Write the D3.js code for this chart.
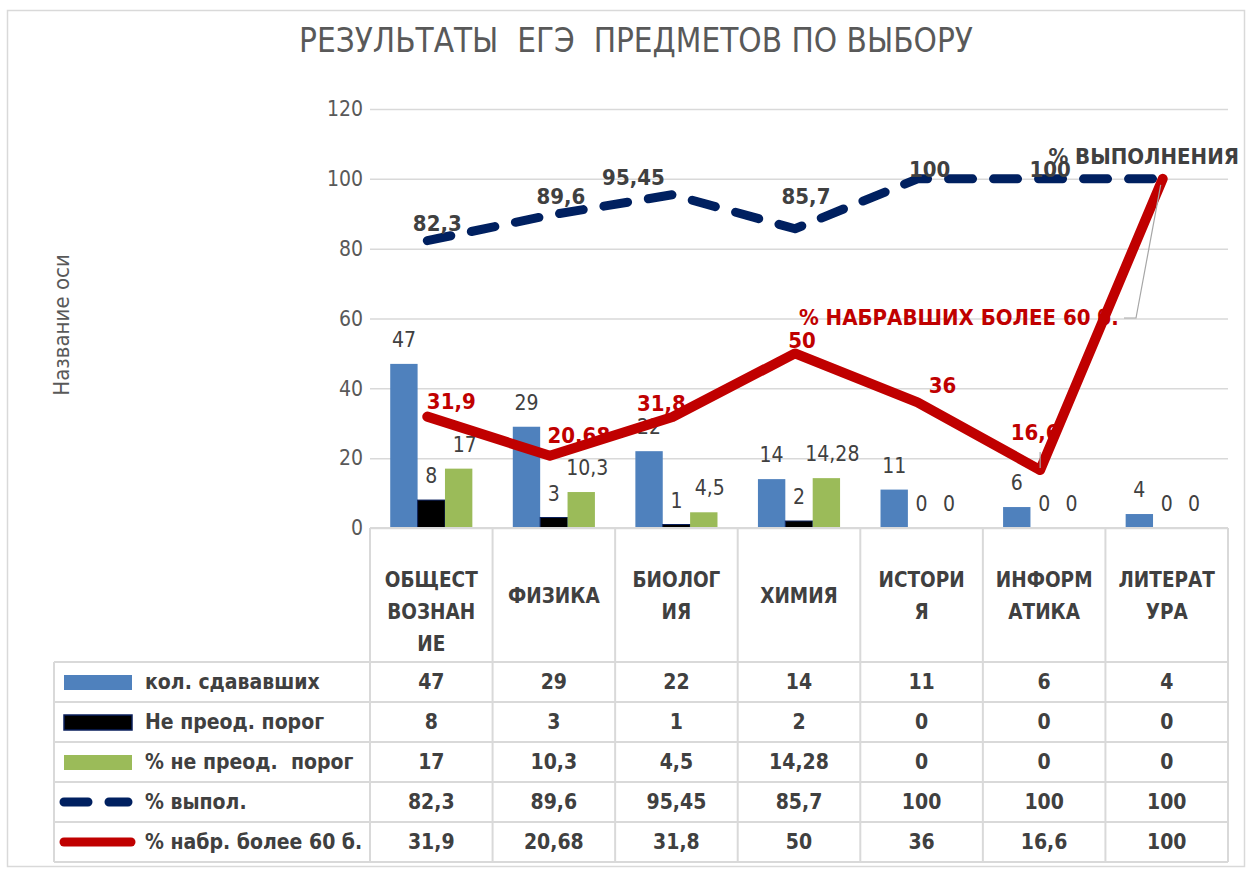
<!DOCTYPE html>
<html><head><meta charset="utf-8">
<script src="https://cdn.jsdelivr.net/npm/d3@7"></script>
<style>
html,body{margin:0;padding:0;background:#fff;}
svg text{white-space:pre;}
</style></head>
<body>
<svg id="chart" width="1251" height="870"></svg>
<script>
// ---------- DATA ----------
const categories = ["ОБЩЕСТВОЗНАНИЕ","ФИЗИКА","БИОЛОГИЯ","ХИМИЯ","ИСТОРИЯ","ИНФОРМАТИКА","ЛИТЕРАТУРА"];
const categoryLines = [["ОБЩЕСТ","ВОЗНАН","ИЕ"],["ФИЗИКА"],["БИОЛОГ","ИЯ"],["ХИМИЯ"],["ИСТОРИ","Я"],["ИНФОРМ","АТИКА"],["ЛИТЕРАТ","УРА"]];
const countTaken = [47,29,22,14,11,6,4];
const notPassed = [8,3,1,2,0,0,0];
const pctNotPassed = [17,10.3,4.5,14.28,0,0,0];
const pctDone = [82.3,89.6,95.45,85.7,100,100,100];
const pctOver60 = [31.9,20.68,31.8,50,36,16.6,100];
const seriesNames = ["кол. сдававших","Не преод. порог","% не преод.  порог","% выпол.","% набр. более 60 б."];
const yTicks = [0,20,40,60,80,100,120];
const title = "РЕЗУЛЬТАТЫ  ЕГЭ  ПРЕДМЕТОВ ПО ВЫБОРУ";
const yAxisTitle = "Название оси";
const lineSeriesLabels = ["% ВЫПОЛНЕНИЯ","% НАБРАВШИХ БОЛЕЕ 60 б."];

// ---------- DRAW ----------
const FONT = "'Liberation Sans Narrow','DejaVu Sans Condensed','Open Sans',sans-serif";
const fmt = v => String(v).replace(".", ",");
const svg = d3.select("#chart");
const textCol = "#404040";
const gridCol = "#d9d9d9";

svg.append("rect").attr("x",7.5).attr("y",10.5).attr("width",1237).attr("height",856)
  .attr("fill","#fff").attr("stroke","#d9d9d9").attr("stroke-width",1.5);

svg.append("text").attr("x",636).attr("y",40).attr("text-anchor","middle").attr("dominant-baseline","central")
  .attr("font-family",FONT).attr("font-size",33).attr("fill","#595959").text(title);

const x = d3.scaleBand().domain(categories).range([370,1228]).paddingInner(0).paddingOuter(0);
const y = d3.scaleLinear().domain([0,120]).range([528,109]);
const bw = x.bandwidth();
const barSeries = [countTaken, notPassed, pctNotPassed];
const xs = d3.scaleBand().domain([0,1,2]).range([bw*0.165, bw*0.835]);
const barColors = ["#4F81BD","#000000","#9BBB59"];
const barStroke = ["none","#0a1f5c","none"];

// gridlines & y axis
const yAxis = d3.axisLeft(y).tickValues(yTicks).tickSize(-(1228-370)).tickPadding(7);
const gy = svg.append("g").attr("transform","translate(370,0)").call(yAxis);
gy.select(".domain").remove();
gy.selectAll(".tick line").attr("stroke",gridCol).attr("stroke-width",1.5);
gy.selectAll(".tick text").attr("font-family",FONT).attr("font-size",21).attr("fill","#595959");

svg.append("text").attr("transform","translate(61,325) rotate(-90)").attr("text-anchor","middle")
  .attr("dominant-baseline","central").attr("font-family",FONT).attr("font-size",22).attr("fill","#595959").text(yAxisTitle);

// bars
barSeries.forEach((vals,si)=>{
  svg.append("g").selectAll("rect").data(vals).join("rect")
    .attr("x",(d,i)=>x(categories[i])+xs(si)).attr("width",xs.bandwidth())
    .attr("y",d=>y(d)).attr("height",d=>y(0)-y(d))
    .attr("fill",barColors[si]).attr("stroke",barStroke[si]).attr("stroke-width",1);
});
barSeries.forEach((vals,si)=>{
  svg.append("g").selectAll("text").data(vals).join("text")
    .attr("x",(d,i)=>x(categories[i])+xs(si)+xs.bandwidth()/2 + (si===2 && d>0 ? 6 : 0))
    .attr("y",d=>y(d)-24).attr("text-anchor","middle").attr("dominant-baseline","central")
    .attr("font-family",FONT).attr("font-size",21).attr("fill",textCol).text(d=>fmt(d));
});

const cx = i => x(categories[i]) + bw/2 - 4;
// lines
const lineGen = d3.line().x((d,i)=>cx(i)).y(d=>y(d));
svg.append("path").datum(pctDone).attr("d",lineGen).attr("fill","none").attr("stroke","#002060")
  .attr("stroke-width",9).attr("stroke-linecap","round").attr("stroke-linejoin","round").attr("stroke-dasharray","24 21");
svg.append("path").datum(pctOver60).attr("d",lineGen).attr("fill","none").attr("stroke","#C00000")
  .attr("stroke-width",10).attr("stroke-linecap","round").attr("stroke-linejoin","round");

// leader lines
const lastI = categories.length-1;
svg.append("polyline").attr("points",[[1124,318],[1136,318],[cx(lastI)-2,y(pctOver60[lastI])+6]].map(p=>p.join(",")).join(" "))
  .attr("fill","none").attr("stroke","#a6a6a6").attr("stroke-width",1.2);
svg.append("line").attr("x1",cx(5)).attr("x2",cx(5)).attr("y1",y(pctOver60[5])-18).attr("y2",y(pctOver60[5])-2)
  .attr("stroke","#a6a6a6").attr("stroke-width",1.2);

// line labels
const doneOff = [[10,-17],[11,-19],[-39,-17],[11,-32],[12,-9],[10,-9],[-19,-22]];
const overOff = [[24,-15],[29,-20],[-11,-13],[7,-13],[25,-17],[-5,-38],[-44,139]];
svg.append("g").selectAll("text").data(pctDone).join("text")
  .attr("x",(d,i)=>cx(i)+doneOff[i][0]).attr("y",(d,i)=>y(d)+doneOff[i][1])
  .attr("text-anchor","middle").attr("dominant-baseline","central")
  .attr("font-family",FONT).attr("font-size",22).attr("font-weight","bold").attr("fill",textCol)
  .text((d,i)=> i===lastI ? lineSeriesLabels[0] : fmt(d));
svg.append("g").selectAll("text").data(pctOver60).join("text")
  .attr("x",(d,i)=>cx(i)+overOff[i][0]).attr("y",(d,i)=>y(d)+overOff[i][1])
  .attr("text-anchor",(d,i)=> i===lastI ? "end" : "middle").attr("dominant-baseline","central")
  .attr("font-family",FONT).attr("font-size",22).attr("font-weight","bold").attr("fill","#C00000")
  .text((d,i)=> i===lastI ? lineSeriesLabels[1] : fmt(d));

// ---------- TABLE ----------
const tTop = 528, headBottom = 662, rowH = 40, tLeft = 54;
const rows = [countTaken, notPassed, pctNotPassed, pctDone, pctOver60];
const tBottom = headBottom + rowH*rows.length;
const tg = svg.append("g").attr("stroke",gridCol).attr("stroke-width",2);
categories.forEach((c,i)=>{
  tg.append("line").attr("x1",x(c)).attr("x2",x(c)).attr("y1",tTop).attr("y2",tBottom);
});
tg.append("line").attr("x1",1228).attr("x2",1228).attr("y1",tTop).attr("y2",tBottom);
tg.append("line").attr("x1",370).attr("x2",1228).attr("y1",tTop).attr("y2",tTop);
tg.append("line").attr("x1",tLeft).attr("x2",tLeft).attr("y1",headBottom).attr("y2",tBottom);
for(let r=0;r<=rows.length;r++){
  tg.append("line").attr("x1",tLeft).attr("x2",1228).attr("y1",headBottom+r*rowH).attr("y2",headBottom+r*rowH);
}
// category header
categoryLines.forEach((lines,i)=>{
  const t = svg.append("text").attr("text-anchor","middle").attr("font-family",FONT).attr("font-size",20.5)
    .attr("font-weight","bold").attr("fill",textCol);
  const y0 = lines.length===1 ? 596 : 580;
  lines.forEach((ln,k)=>{
    t.append("tspan").attr("x",x(categories[i])+bw/2).attr("y",y0+k*32).attr("dominant-baseline","central").text(ln);
  });
});
// values
rows.forEach((vals,r)=>{
  const cyR = headBottom+r*rowH+rowH/2;
  svg.append("g").selectAll("text").data(vals).join("text")
    .attr("x",(d,i)=>x(categories[i])+bw/2).attr("y",cyR)
    .attr("text-anchor","middle").attr("dominant-baseline","central")
    .attr("font-family",FONT).attr("font-size",21).attr("font-weight","bold").attr("fill",textCol).text(d=>fmt(d));
  svg.append("text").attr("x",145).attr("y",cyR).attr("dominant-baseline","central")
    .attr("font-family",FONT).attr("font-size",21).attr("font-weight","bold").attr("fill",textCol).text(seriesNames[r]);
  if(r<3){
    svg.append("rect").attr("x",64).attr("y",cyR-7).attr("width",68).attr("height",15)
      .attr("fill",barColors[r]).attr("stroke",barStroke[r]).attr("stroke-width",1.5);
  } else if(r===3){
    svg.append("line").attr("x1",64).attr("x2",128).attr("y1",cyR).attr("y2",cyR).attr("stroke","#002060")
      .attr("stroke-width",9).attr("stroke-linecap","round").attr("stroke-dasharray","24 21");
  } else {
    svg.append("line").attr("x1",64).attr("x2",131).attr("y1",cyR).attr("y2",cyR).attr("stroke","#C00000")
      .attr("stroke-width",9).attr("stroke-linecap","round");
  }
});
</script>
</body></html>
